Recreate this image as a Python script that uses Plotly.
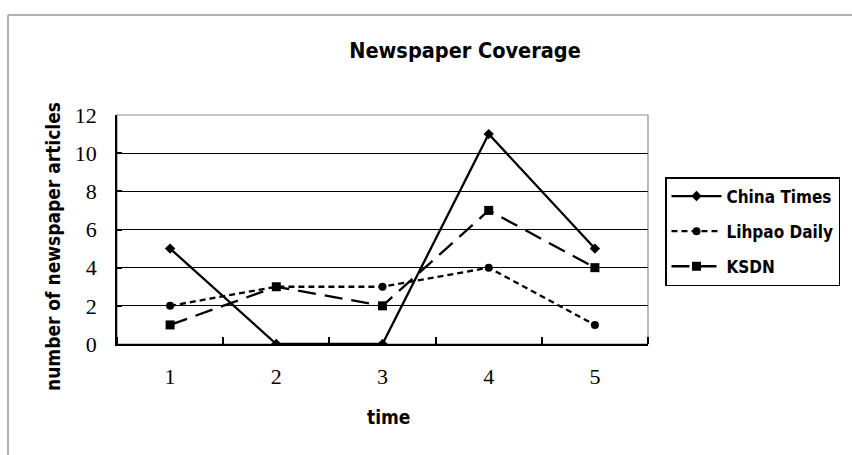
import plotly.graph_objects as go

# Newspaper article counts per time period
time_points = [1, 2, 3, 4, 5]
china_times = [5, 0, 0, 11, 5]
lihpao_daily = [2, 3, 3, 4, 1]
ksdn = [1, 3, 2, 7, 4]

W, H = 852, 455
L, R, T, B = 117, 648, 115, 344  # plot area in pixels

def px_x(x):
    return (x - L) / (R - L)

def px_y(y):
    return (B - y) / (B - T)

narrow = "DejaVu Sans Condensed, Liberation Sans Narrow, Arial Narrow, Liberation Sans, Arial"
label_font = dict(family=narrow, size=19, color="black")
tick_font = dict(family="Liberation Serif, DejaVu Serif, serif", size=22, color="black")

fig = go.Figure()

series = [
    ("China Times", china_times, "solid", "diamond", 8),
    ("Lihpao Daily", lihpao_daily, "6px,4px", "circle", 8),
    ("KSDN", ksdn, "18px,9px", "square", 9),
]
for name, vals, dash, sym, msize in series:
    fig.add_trace(go.Scatter(
        x=time_points, y=vals, name=f"<b>{name}</b>", mode="lines+markers",
        legendgroup=name,
        line=dict(color="black", width=2.3, dash=dash),
        marker=dict(symbol=sym, size=msize, color="black"),
    ))

# Outer chart frame (top and left edges)
fig.add_shape(type="line", xref="paper", yref="paper",
              x0=px_x(8), x1=1.6, y0=px_y(15), y1=px_y(15),
              line=dict(color="#9a9a9a", width=1.5))
fig.add_shape(type="line", xref="paper", yref="paper",
              x0=px_x(8), x1=px_x(8), y0=px_y(15), y1=px_y(460),
              line=dict(color="#9a9a9a", width=1.5))
# Plot area border
fig.add_shape(type="rect", xref="paper", yref="paper",
              x0=0, x1=1, y0=0, y1=1, layer="below",
              line=dict(color="#8c8c8c", width=1.2))

fig.add_annotation(text="<b>time</b>", xref="paper", yref="paper",
                   x=px_x(388), y=px_y(417), showarrow=False,
                   xanchor="center", yanchor="middle", font=label_font)
fig.add_annotation(text="<b>number of newspaper articles</b>", xref="paper", yref="paper",
                   x=px_x(53), y=px_y(247), showarrow=False, textangle=-90,
                   xanchor="center", yanchor="middle", font=label_font)

fig.update_layout(
    width=W, height=H,
    margin=dict(l=L, r=W - R, t=T, b=H - B, pad=0),
    paper_bgcolor="white", plot_bgcolor="white",
    title=dict(text="<b>Newspaper Coverage</b>", x=465 / W, y=1 - 50 / H,
               xref="container", yref="container",
               xanchor="center", yanchor="middle",
               font=dict(family=narrow, size=21.5, color="black")),
    showlegend=True,
    legend=dict(x=px_x(665), y=px_y(177), xanchor="left", yanchor="top",
                bordercolor="black", borderwidth=1.5, bgcolor="white",
                font=dict(family=narrow, size=17, color="black"),
                traceorder="grouped", tracegroupgap=10,
                itemwidth=50),
    xaxis=dict(range=[0.5, 5.5], tickvals=time_points, ticktext=[str(t) for t in time_points],
               ticks="", showgrid=False, zeroline=False,
               showline=True, linecolor="black", linewidth=1.8,
               tickfont=tick_font, ticklabelstandoff=12,
               minor=dict(tick0=0.5, dtick=1, ticks="inside", ticklen=7,
                          tickcolor="black", tickwidth=1.5, showgrid=False),
               fixedrange=True),
    yaxis=dict(range=[0, 12], dtick=2, ticks="inside", ticklen=5, tickcolor="black",
               tickwidth=1.5, showgrid=True, gridcolor="black", gridwidth=1.3,
               zeroline=False, showline=True, linecolor="black", linewidth=1.8,
               tickfont=tick_font, ticklabelstandoff=14, fixedrange=True),
)

fig.write_html("out.html")
